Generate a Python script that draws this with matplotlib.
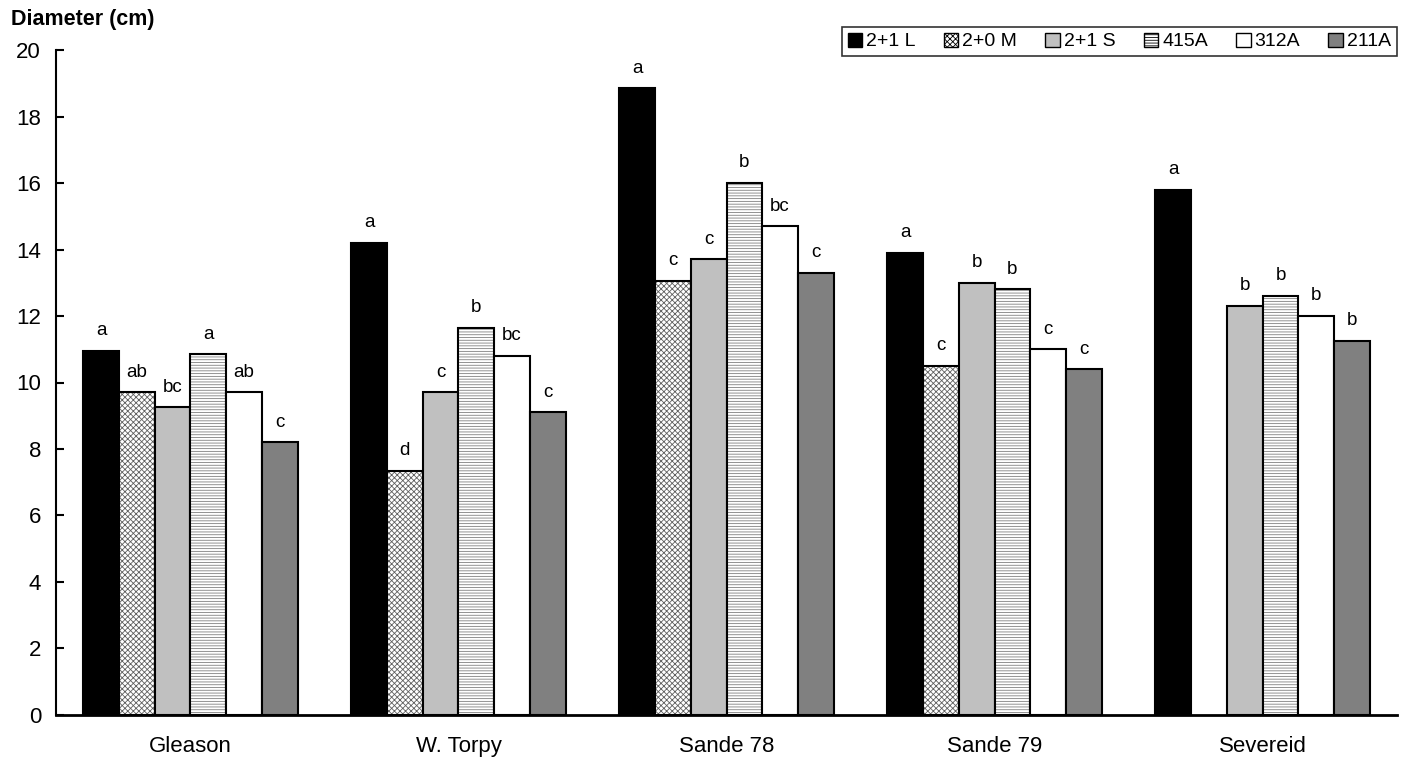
import numpy as np
import matplotlib
matplotlib.use("Agg")
from matplotlib import pyplot as plt
from matplotlib.patches import Patch

plt.rcParams['font.family'] = ['Liberation Sans', 'DejaVu Sans']
plt.rcParams['hatch.linewidth'] = 0.6

sites = ['Gleason', 'W. Torpy', 'Sande 78', 'Sande 79', 'Severeid']
stock = ['2+1 L', '2+0 M', '2+1 S', '415A', '312A', '211A']

# diameter (cm) per stock type, one value per site
d_21L = [10.95, 14.2, 18.85, 13.9, 15.8]
d_20M = [9.7, 7.35, 13.05, 10.5, np.nan]
d_21S = [9.25, 9.7, 13.7, 13.0, 12.3]
d_415A = [10.85, 11.65, 16.0, 12.8, 12.6]
d_312A = [9.7, 10.8, 14.7, 11.0, 12.0]
d_211A = [8.2, 9.1, 13.3, 10.4, 11.25]

l_21L = ['a', 'a', 'a', 'a', 'a']
l_20M = ['ab', 'd', 'c', 'c', '']
l_21S = ['bc', 'c', 'c', 'b', 'b']
l_415A = ['a', 'b', 'b', 'b', 'b']
l_312A = ['ab', 'bc', 'bc', 'c', 'b']
l_211A = ['c', 'c', 'c', 'c', 'b']

values = [d_21L, d_20M, d_21S, d_415A, d_312A, d_211A]
letters = [l_21L, l_20M, l_21S, l_415A, l_312A, l_211A]
fills = ['black', 'white', '#c0c0c0', 'white', 'white', '#808080']
hatches = [None, 'xxxxxx', None, '------', None, None]
hatch_cols = [None, '#606060', None, '#808080', None, None]

fig = plt.figure(figsize=(14.08, 7.65), dpi=100)
ax = fig.add_axes([0.040, 0.0654, 0.952, 0.8692])

x = np.arange(len(sites))
w = 0.8 / len(stock)
for i in range(len(stock)):
    pos = x - 0.4 + w * (i + 0.5)
    h = np.array(values[i], dtype=float)
    if hatches[i]:
        ax.bar(pos, h, w, color=fills[i], edgecolor=hatch_cols[i], hatch=hatches[i], linewidth=0)
    ax.bar(pos, h, w, facecolor='none' if hatches[i] else fills[i],
           edgecolor='black', linewidth=1.5)
    for px, v, lab in zip(pos, h, letters[i]):
        if not np.isnan(v) and lab:
            ax.text(px, v + 0.35, lab, ha='center', va='bottom', fontsize=13.5)

ax.set_xlim(-0.5, len(sites) - 0.5)
ax.set_ylim(0, 20)
ax.set_yticks(range(0, 21, 2))
ax.set_xticks(x)
ax.set_xticklabels(sites, fontsize=16)
ax.tick_params(axis='x', length=0, pad=15)
ax.tick_params(axis='y', direction='in', length=6, width=1.5, labelsize=16, pad=11)
for s in ['top', 'right']:
    ax.spines[s].set_visible(False)
ax.spines['left'].set_linewidth(1.5)
ax.spines['bottom'].set_linewidth(2)

fig.text(0.008, 0.975, 'Diameter (cm)', fontsize=15.5, fontweight='bold', ha='left', va='center')

handles = []
for i in range(len(stock)):
    handles.append(Patch(facecolor=fills[i], edgecolor='black', hatch=hatches[i], linewidth=1, label=stock[i]))
leg = ax.legend(handles=handles, ncol=6, loc='upper right', bbox_to_anchor=(1.0, 1.035),
                borderaxespad=0, frameon=True, fancybox=False, fontsize=14,
                handlelength=0.75, handleheight=0.75, handletextpad=0.2,
                columnspacing=1.45, borderpad=0.3)
leg.get_frame().set_edgecolor('black')
leg.get_frame().set_linewidth(1.2)

fig.savefig('out.png', dpi=100)
